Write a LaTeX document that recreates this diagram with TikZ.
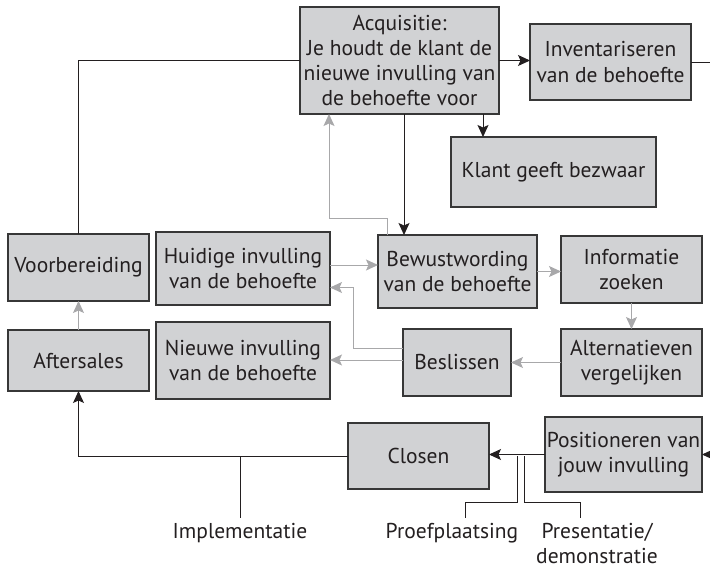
\documentclass[tikz,border=0pt]{standalone}
\usepackage{fontspec}
\setmainfont{PT Sans}
\usetikzlibrary{arrows.meta, positioning, calc}
\definecolor{boxfill}{RGB}{209, 210, 212}
\definecolor{boxline}{RGB}{55, 55, 55}
\definecolor{flowdark}{RGB}{35, 31, 32}
\definecolor{flowgray}{RGB}{168, 168, 170}
\tikzset{
  stap/.style args={#1/#2}{rectangle, draw=boxline, fill=boxfill, line width=1.2pt,
                minimum width=#1, minimum height=#2, inner sep=1pt, outer sep=0pt,
                align=center, text=flowdark, font=\fontsize{21.5}{25.3}\selectfont},
  label/.style={align=center, text=flowdark, font=\fontsize{21.5}{24.5}\selectfont},
  darkarrow/.style={-{Stealth[length=12pt, width=11pt, inset=2.5pt]}, line width=1pt, color=flowdark},
  grayarrow/.style={-{Stealth[length=12pt, width=11pt, inset=2.5pt]}, line width=1pt, color=flowgray},
  darkline/.style={line width=0.9pt, color=flowdark},
}

\begin{document}
\begin{tikzpicture}[x=1pt, y=-1pt]
  \useasboundingbox (0,0) rectangle (710,570);

  % Boxes
  \node[stap={199pt/107pt}] (acq) at (399.5, 60.5)
       {Acquisitie:\\Je houdt de klant de\\nieuwe invulling van\\de behoefte voor};
  \node[stap={161pt/76pt}] (inv) at (610.5, 62) {Inventariseren\\van de behoefte};
  \node[stap={205pt/70pt}] (bezwaar) at (553.5, 172) {Klant geeft bezwaar};
  \node[stap={141pt/67pt}] (voorb) at (78.5, 267.5) {Voorbereiding};
  \node[stap={174pt/73pt}] (huidig) at (243, 268.5) {Huidige invulling\\van de behoefte};
  \node[stap={159pt/73pt}] (bewust) at (457.5, 271.5) {Bewustwording\\van de behoefte};
  \node[stap={141pt/67pt}] (info) at (631.5, 269.5) {Informatie\\zoeken};
  \node[stap={141pt/61pt}] (after) at (78.5, 360.5) {Aftersales};
  \node[stap={174pt/77pt}] (nieuw) at (243, 360.5) {Nieuwe invulling\\van de behoefte};
  \node[stap={108pt/67pt}] (beslis) at (457, 362.5) {Beslissen};
  \node[stap={141pt/67pt}] (alt) at (631.5, 362.5) {Alternatieven\\vergelijken};
  \node[stap={141pt/66pt}] (closen) at (418.5, 456) {Closen};
  \node[stap={157pt/75pt}] (posit) at (623.5, 454.5) {Positioneren van\\jouw invulling};

  % Labels onder de lijn
  \node[label, anchor=north] (impl) at (240, 520) {Implementatie};
  \node[label, anchor=north] (proef) at (452, 520) {Proefplaatsing};
  \node[label, anchor=north] (present) at (597, 520) {Presentatie/\\demonstratie};

  % Donkere verbindingen
  \coordinate (rechtsboven) at (710, 62);
  \coordinate (rechtsonder) at (710, 454.5);
  \draw[darkline] (acq.west) -| (voorb.north);
  \draw[darkarrow] (acq.east) -- (acq.east -| inv.west);
  \draw[darkline] (inv.east) -- (rechtsboven);
  \draw[darkarrow] ([xshift=-16pt]acq.south east) -- ([xshift=-16pt]acq.south east |- bezwaar.north);
  \draw[darkarrow] ([xshift=4.5pt]acq.south) -- ([xshift=4.5pt]acq.south |- bewust.north);
  \draw[darkarrow] (rechtsonder) -- (posit.east);
  \draw[darkarrow] (posit.west) -- (posit.west -| closen.east);
  \draw[darkarrow] (closen.west) -| (after.south);
  \draw[darkline] (impl.north |- closen.west) -- ([yshift=2pt]impl.north);
  \draw[darkline] ([xshift=28pt]closen.east) |- ([xshift=13pt, yshift=18pt]proef.north)
       -- ([xshift=13pt, yshift=2pt]proef.north);
  \draw[darkline] ([xshift=35pt]closen.east) |- ([xshift=-17pt, yshift=18pt]present.north)
       -- ([xshift=-17pt, yshift=2pt]present.north);

  % Grijze verbindingen
  \draw[grayarrow] (after.north) -- (voorb.south);
  \draw[grayarrow] ([xshift=-70.5pt]bewust.north) -- ++(0,-17) -| ([xshift=-70.5pt]acq.south);
  \draw[grayarrow] ([yshift=3.5pt]huidig.east) -- ([yshift=3.5pt]huidig.east -| bewust.west);
  \draw[grayarrow] (bewust.east) -- (bewust.east -| info.west);
  \draw[grayarrow] (info.south) -- (alt.north);
  \draw[grayarrow] (alt.west) -- (beslis.east);
  \draw[grayarrow] ([yshift=2.5pt]beslis.west) -- ([yshift=2.5pt]beslis.west -| nieuw.east);
  \draw[grayarrow] ([yshift=14.5pt]beslis.west) -- ++(-50,0) |- ([yshift=-19pt]huidig.east);
\end{tikzpicture}
\end{document}
